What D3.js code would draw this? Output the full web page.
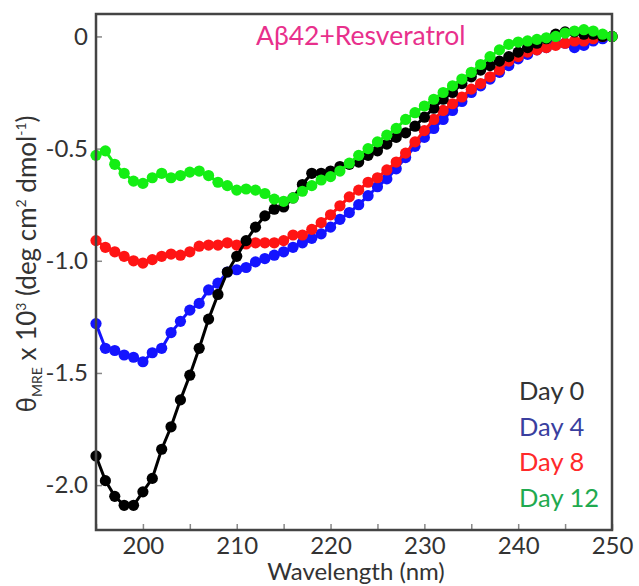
<!DOCTYPE html>
<html>
<head>
<meta charset="utf-8">
<script src="https://cdn.jsdelivr.net/npm/d3@7"></script>
<style>
  body { margin: 0; background: #fff; }
  text { font-family: Lato, "Open Sans", sans-serif; }
</style>
</head>
<body>
<svg id="cd-plot" width="639" height="586"></svg>
<script>
// wavelengths 195..250 nm, one reading per nm
const wavelengths = d3.range(195, 251);

const day0 = [-1.87, -1.98, -2.05, -2.09, -2.09, -2.03, -1.97, -1.84, -1.74, -1.62,
  -1.51, -1.39, -1.26, -1.15, -1.05, -0.98, -0.91, -0.85, -0.80, -0.77,
  -0.76, -0.72, -0.66, -0.61, -0.61, -0.60, -0.58, -0.57, -0.56, -0.53,
  -0.51, -0.48, -0.45, -0.43, -0.40, -0.36, -0.32, -0.28, -0.25, -0.21,
  -0.18, -0.15, -0.13, -0.11, -0.09, -0.07, -0.05, -0.03, -0.01, 0.01,
  0.02, 0.02, 0.01, 0.01, 0.00, 0.00];
const day4 = [-1.28, -1.39, -1.40, -1.42, -1.43, -1.45, -1.41, -1.39, -1.32, -1.27,
  -1.22, -1.19, -1.13, -1.10, -1.05, -1.04, -1.03, -1.005, -0.99, -0.975,
  -0.96, -0.94, -0.92, -0.90, -0.88, -0.85, -0.815, -0.785, -0.75, -0.71,
  -0.67, -0.635, -0.59, -0.54, -0.49, -0.45, -0.41, -0.37, -0.33, -0.29,
  -0.25, -0.22, -0.19, -0.16, -0.13, -0.10, -0.08, -0.06, -0.05, -0.03,
  -0.03, -0.05, -0.04, -0.02, -0.01, 0.00];
const day8 = [-0.91, -0.94, -0.96, -0.98, -1.00, -1.01, -0.995, -0.98, -0.97, -0.975,
  -0.96, -0.935, -0.93, -0.93, -0.92, -0.93, -0.925, -0.92, -0.92, -0.92,
  -0.91, -0.885, -0.885, -0.86, -0.83, -0.795, -0.755, -0.715, -0.685, -0.65,
  -0.63, -0.595, -0.56, -0.52, -0.47, -0.42, -0.37, -0.33, -0.30, -0.27,
  -0.235, -0.21, -0.18, -0.15, -0.11, -0.09, -0.07, -0.06, -0.05, -0.04,
  -0.03, -0.02, -0.02, -0.01, 0.00, 0.00];
const day12 = [-0.53, -0.51, -0.57, -0.61, -0.645, -0.655, -0.63, -0.61, -0.63, -0.62,
  -0.605, -0.60, -0.62, -0.65, -0.665, -0.685, -0.68, -0.685, -0.70, -0.725,
  -0.735, -0.72, -0.69, -0.665, -0.64, -0.625, -0.60, -0.565, -0.53, -0.50,
  -0.47, -0.44, -0.41, -0.37, -0.34, -0.31, -0.28, -0.25, -0.22, -0.19,
  -0.16, -0.125, -0.09, -0.06, -0.035, -0.025, -0.02, -0.013, -0.006, 0.00,
  0.015, 0.024, 0.03, 0.024, 0.01, 0.00];

const xTicks = [200, 210, 220, 230, 240, 250];
const yTicks = [0, -0.5, -1.0, -1.5, -2.0];
const yTickLabels = ["0", "-0.5", "-1.0", "-1.5", "-2.0"];
const legendLabels = ["Day 0", "Day 4", "Day 8", "Day 12"];

const svg = d3.select("#cd-plot");
const margin = { top: 14, right: 27, bottom: 56, left: 96 };
const width = +svg.attr("width");
const height = +svg.attr("height");
const innerWidth = width - margin.left - margin.right;
const innerHeight = height - margin.top - margin.bottom;

const xScale = d3.scaleLinear().domain([195, 250]).range([0, innerWidth]);
const yScale = d3.scaleLinear().domain([-2.2, 0.1]).range([innerHeight, 0]);

const g = svg.append("g").attr("transform", `translate(${margin.left},${margin.top})`);

// axes (ticks point inward, minor x ticks every 5 nm)
const xAxis = d3.axisBottom(xScale).tickValues(d3.range(195, 251, 5))
  .tickSize(-6).tickPadding(10)
  .tickFormat((d) => (xTicks.includes(d) ? d : ""));
const xAxisG = g.append("g").attr("transform", `translate(0,${innerHeight})`).call(xAxis);
xAxisG.select(".domain").remove();
xAxisG.selectAll("line").attr("stroke", "#888").attr("stroke-width", 1.5);
xAxisG.selectAll("text").filter((d) => !xTicks.includes(d)).remove();
xAxisG.selectAll("text").attr("font-size", 24).attr("fill", "#333").attr("dy", "0.6em");

const yAxis = d3.axisLeft(yScale).tickValues(yTicks).tickSize(-6).tickPadding(8)
  .tickFormat((d, i) => yTickLabels[i]);
const yAxisG = g.append("g").call(yAxis);
yAxisG.select(".domain").remove();
yAxisG.selectAll("line").attr("stroke", "#888").attr("stroke-width", 1.5);
yAxisG.selectAll("text").attr("font-size", 24).attr("fill", "#333");

// series
const series = [
  { name: "Day 4", values: day4, color: "#1414ff" },
  { name: "Day 8", values: day8, color: "#ff1414" },
  { name: "Day 0", values: day0, color: "#000000" },
  { name: "Day 12", values: day12, color: "#14ee14" },
];

const lineGenerator = d3.line()
  .x((d) => xScale(d[0]))
  .y((d) => yScale(d[1]));

series.forEach((s) => {
  const pts = wavelengths.map((w, i) => [w, s.values[i]]);
  const sg = g.append("g");
  sg.append("path").attr("d", lineGenerator(pts))
    .attr("fill", "none").attr("stroke", s.color).attr("stroke-width", 3);
  sg.selectAll("circle").data(pts).enter().append("circle")
    .attr("cx", (d) => xScale(d[0]))
    .attr("cy", (d) => yScale(d[1]))
    .attr("r", 5.6)
    .attr("fill", s.color);
});

// frame
g.append("rect").attr("width", innerWidth).attr("height", innerHeight)
  .attr("fill", "none").attr("stroke", "#444").attr("stroke-width", 2.5);

// title
g.append("text").attr("x", 256 - margin.left).attr("y", 45 - margin.top)
  .attr("font-size", 26.5).attr("fill", "#e8308c").text("Aβ42+Resveratrol");

// legend
const legendColors = ["#333333", "#3a3f9f", "#ff2a2a", "#1faa50"];
g.selectAll(".legend").data(legendLabels).enter().append("text")
  .attr("x", 519 - margin.left)
  .attr("y", (d, i) => 400 - margin.top + i * 35.5)
  .attr("font-size", 25.5)
  .attr("fill", (d, i) => legendColors[i])
  .text((d) => d);

// axis titles
svg.append("text").attr("x", 356).attr("y", 580).attr("text-anchor", "middle")
  .attr("font-size", 24).attr("fill", "#333").text("Wavelength (nm)");

const yTitle = svg.append("text")
  .attr("transform", "translate(36,264) rotate(-90)")
  .attr("text-anchor", "middle").attr("font-size", 26).attr("fill", "#333");
yTitle.append("tspan").text("θ");
yTitle.append("tspan").attr("font-size", 14).attr("dy", 6).text("MRE");
yTitle.append("tspan").attr("dy", -6).text(" x 10");
yTitle.append("tspan").attr("font-size", 14).attr("dy", -10).text("3");
yTitle.append("tspan").attr("dy", 10).text(" (deg cm");
yTitle.append("tspan").attr("font-size", 14).attr("dy", -10).text("2");
yTitle.append("tspan").attr("dy", 10).text(" dmol");
yTitle.append("tspan").attr("font-size", 14).attr("dy", -10).text("-1");
yTitle.append("tspan").attr("dy", 10).text(")");
</script>
</body>
</html>
